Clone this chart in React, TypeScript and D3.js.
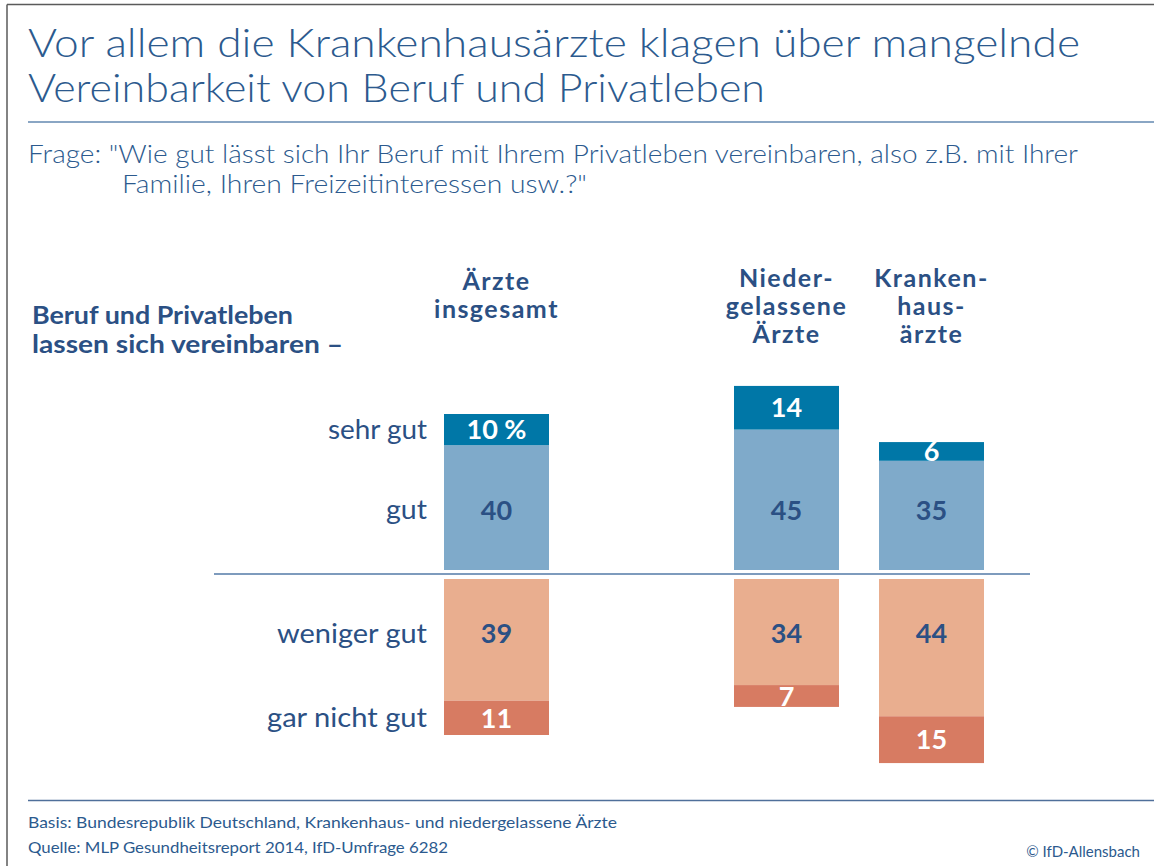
import React from "react";
import * as d3 from "d3";

const groupKeys = ["insgesamt", "spacer", "niedergelassen", "krankenhaus"];
const groups = ["insgesamt", "niedergelassen", "krankenhaus"];
const groupHeaderLines = [
  ["Ärzte", "insgesamt"],
  ["Nieder-", "gelassene", "Ärzte"],
  ["Kranken-", "haus-", "ärzte"],
];
const categories = ["sehr gut", "gut", "weniger gut", "gar nicht gut"];
const sehrGut = [10, 14, 6];
const gut = [40, 45, 35];
const wenigerGut = [39, 34, 44];
const garNichtGut = [11, 7, 15];
const valueLabelsFirst = ["10 %", "40", "39", "11"];

const titleLines = [
  "Vor allem die Krankenhausärzte klagen über mangelnde",
  "Vereinbarkeit von Beruf und Privatleben",
];
const questionLines = [
  "Frage: \"Wie gut lässt sich Ihr Beruf mit Ihrem Privatleben vereinbaren, also z.B. mit Ihrer",
  "Familie, Ihren Freizeitinteressen usw.?\"",
];
const leftHeader = ["Beruf und Privatleben", "lassen sich vereinbaren –"];
const footerLines = [
  "Basis: Bundesrepublik Deutschland, Krankenhaus- und niedergelassene Ärzte",
  "Quelle: MLP Gesundheitsreport 2014, IfD-Umfrage 6282",
];
const copyright = "© IfD-Allensbach";

const C = {
  sehr: "#0077a7",
  gut: "#7faaca",
  weniger: "#e9ae8f",
  garnicht: "#d77b62",
  navy: "#2b5084",
  title: "#2c5a8e",
  rule: "#8aa6c4",
  axis: "#7e9bbd",
  frame: "#5a5a5a",
};

const FONT = "Lato, 'Open Sans', sans-serif";

// layout widths matched to the reference
const catLabelWidths = [99, 41, 150, 160];

export default function App() {
  const W = 1154;
  const H = 866;

  const x = d3
    .scaleBand<string>()
    .domain(groupKeys)
    .range([444, 984])
    .paddingInner(40 / 145)
    .paddingOuter(0);
  const bw = x.bandwidth();

  const yPos = d3.scaleLinear().domain([0, 60]).range([570, 570 - 187.2]);
  const yNeg = d3.scaleLinear().domain([0, 60]).range([579, 579 + 187.2]);

  const gutLabelY = yPos(19.3);
  const wenigerLabelY = yNeg(17.5);

  const catLabelY = [
    (yPos(gut[0]) + yPos(gut[0] + sehrGut[0])) / 2,
    gutLabelY,
    wenigerLabelY,
    (yNeg(wenigerGut[0]) + yNeg(wenigerGut[0] + garNichtGut[0])) / 2,
  ];

  const valueText = (key: string, xx: number, yy: number, label: string, fill: string) => (
    <text
      key={key}
      x={xx}
      y={yy}
      dy="0.36em"
      fontSize={27}
      fontWeight="bold"
      fill={fill}
      textAnchor="middle"
    >
      {label}
    </text>
  );

  return (
    <svg
      width={W}
      height={H}
      style={{ position: "absolute", left: 0, top: 0, background: "#fff" }}
      fontFamily={FONT}
    >
      <rect x={0} y={0} width={W} height={H} fill="#fff" />
      {/* frame */}
      <line x1={7} y1={4.5} x2={W} y2={4.5} stroke={C.frame} strokeWidth={1.5} />
      <line x1={7} y1={4.5} x2={7} y2={H} stroke={C.frame} strokeWidth={1.5} />

      {/* title */}
      {titleLines.map((t, i) => (
        <text
          key={t}
          x={28}
          y={57 + i * 45}
          fontSize={39}
          fontWeight={300}
          fill={C.title}
          textLength={i === 0 ? 1052 : 737}
          lengthAdjust="spacingAndGlyphs"
        >
          {t}
        </text>
      ))}
      <line x1={28} y1={122} x2={W} y2={122} stroke={C.rule} strokeWidth={2} />

      {/* question */}
      {questionLines.map((t, i) => (
        <text
          key={t}
          x={i === 0 ? 28 : 122}
          y={163 + i * 30}
          fontSize={25}
          fontWeight={300}
          fill={C.title}
          textLength={i === 0 ? 1050 : 465}
          lengthAdjust="spacingAndGlyphs"
        >
          {t}
        </text>
      ))}

      {/* left header */}
      {leftHeader.map((t, i) => (
        <text
          key={t}
          x={32}
          y={324 + i * 29}
          fontSize={24}
          fontWeight="bold"
          fill={C.navy}
          textLength={i === 0 ? 261 : 311}
          lengthAdjust="spacingAndGlyphs"
        >
          {t}
        </text>
      ))}

      {/* column headers */}
      {groups.map((g, gi) =>
        groupHeaderLines[gi].map((line, li) => (
          <text
            key={g + li}
            x={(x(g) as number) + bw / 2}
            y={(gi === 0 ? 290 : 287) + li * 28}
            fontSize={25}
            fontWeight="bold"
            letterSpacing={1.5}
            fill={C.navy}
            textAnchor="middle"
          >
            {line}
          </text>
        ))
      )}

      {/* category labels */}
      {categories.map((c, i) => (
        <text
          key={c}
          x={427}
          y={catLabelY[i]}
          dy="0.35em"
          fontSize={26}
          fill={C.navy}
          textAnchor="end"
          textLength={catLabelWidths[i]}
          lengthAdjust="spacingAndGlyphs"
        >
          {c}
        </text>
      ))}

      {/* axis */}
      <line x1={214} y1={574} x2={1030} y2={574} stroke={C.axis} strokeWidth={2} />

      {/* bars */}
      {groups.map((g, gi) => {
        const bx = x(g) as number;
        const cx = bx + bw / 2;
        const g0 = gut[gi];
        const s0 = sehrGut[gi];
        const w0 = wenigerGut[gi];
        const n0 = garNichtGut[gi];
        const labels =
          gi === 0
            ? valueLabelsFirst
            : [String(s0), String(g0), String(w0), String(n0)];
        return (
          <g key={g}>
            <rect x={bx} y={yPos(g0)} width={bw} height={yPos(0) - yPos(g0)} fill={C.gut} />
            <rect
              x={bx}
              y={yPos(g0 + s0)}
              width={bw}
              height={yPos(g0) - yPos(g0 + s0)}
              fill={C.sehr}
            />
            <rect x={bx} y={yNeg(0)} width={bw} height={yNeg(w0) - yNeg(0)} fill={C.weniger} />
            <rect
              x={bx}
              y={yNeg(w0)}
              width={bw}
              height={yNeg(w0 + n0) - yNeg(w0)}
              fill={C.garnicht}
            />
            {valueText("s", cx, (yPos(g0) + yPos(g0 + s0)) / 2, labels[0], "#fff")}
            {valueText("g", cx, gutLabelY, labels[1], C.navy)}
            {valueText("w", cx, wenigerLabelY, labels[2], C.navy)}
            {valueText("n", cx, (yNeg(w0) + yNeg(w0 + n0)) / 2, labels[3], "#fff")}
          </g>
        );
      })}

      {/* footer */}
      <line x1={28} y1={800.5} x2={W} y2={800.5} stroke="#4f6f9a" strokeWidth={1.5} />
      {footerLines.map((t, i) => (
        <text
          key={t}
          x={28}
          y={828 + i * 25}
          fontSize={16}
          fill={C.title}
          textLength={i === 0 ? 589 : 420}
          lengthAdjust="spacingAndGlyphs"
        >
          {t}
        </text>
      ))}
      <text x={1140} y={857} fontSize={15} fill={C.title} textAnchor="end">
        {copyright}
      </text>
    </svg>
  );
}
